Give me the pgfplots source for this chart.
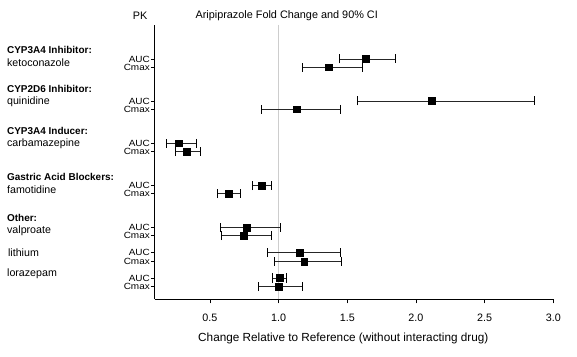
\documentclass[border=0pt]{standalone}
\usepackage{pgfplots}
\pgfplotsset{compat=1.18}
\usepackage{pgfplotstable}
\usepackage{fontspec}
\setmainfont{Liberation Sans}

\pgfplotstableread{
y x lo hi
-59.0 1.634 1.440 1.850
-67.2 1.367 1.170 1.607
-101.0 2.117 1.571 2.864
-109.3 1.129 0.878 1.447
-143.3 0.272 0.184 0.398
-151.7 0.330 0.252 0.434
-185.7 0.874 0.810 0.944
-193.7 0.636 0.556 0.721
-227.7 0.765 0.575 1.015
-235.7 0.745 0.582 0.947
-252.7 1.153 0.920 1.447
-261.3 1.187 0.969 1.454
-278.0 1.007 0.954 1.058
-286.7 1.000 0.852 1.170
}\data

\begin{document}
\begin{tikzpicture}
\path[use as bounding box] (-155bp,-57.7bp) rectangle (422bp,299.3bp);
\begin{axis}[
  at={(0,0)}, anchor=south west,
  scale only axis, width=398.3bp, height=274.3bp,
  xmin=0.1, xmax=3.0, ymin=-299.3, ymax=-25,
  axis lines=left, axis line style={-, line width=1pt, black},
  tick align=outside, major tick length=4bp,
  tick style={black, line width=0.8pt},
  xtick={0.5,1,1.5,2,2.5,3},
  xticklabels={0.5,1.0,1.5,2.0,2.5,3.0},
  xticklabel style={font=\fontsize{10.8}{12}\selectfont, yshift=-7bp},
  ytick={-59,-67.2,-101,-109.3,-143.3,-151.7,-185.7,-193.7,-227.7,-235.7,-252.7,-261.3,-278,-286.7},
  yticklabels={AUC,Cmax,AUC,Cmax,AUC,Cmax,AUC,Cmax,AUC,Cmax,AUC,Cmax,AUC,Cmax},
  yticklabel style={font=\fontsize{10}{10}\selectfont, inner sep=1bp, yscale=0.9},
  clip=false,
]
\addplot[color={rgb,255:red,205;green,205;blue,205}, line width=1.5bp] coordinates {(1,-25) (1,-299.3)};
\addplot[only marks, mark=square*, mark size=3.4bp, black,
  error bars/.cd, x dir=both, x explicit, error mark=|,
  error bar style={line width=0.8pt, black!85},
  error mark options={line width=0.8pt, mark size=4.5bp, black}]
  table[x=x, y=y, x error plus expr=\thisrow{hi}-\thisrow{x}, x error minus expr=\thisrow{x}-\thisrow{lo}] {\data};

\node[font=\fontsize{10.9}{12}\selectfont] at (axis cs:1.059,-16) {Aripiprazole Fold Change and 90\% CI};
\node[font=\fontsize{10.9}{12}\selectfont] at (axis cs:-0.009,-15.7) {PK};
\node[font=\fontsize{11.8}{12}\selectfont] at (axis cs:1.471,-338.3) {Change Relative to Reference (without interacting drug)};

\begin{scope}[every node/.style={anchor=west, inner sep=0pt}]
\node[font=\fontsize{10}{12}\selectfont\bfseries] at (axis cs:-0.978,-50) {CYP3A4 Inhibitor:};
\node[font=\fontsize{10.7}{12}\selectfont] at (axis cs:-0.978,-62.7) {ketoconazole};
\node[font=\fontsize{10}{12}\selectfont\bfseries] at (axis cs:-0.978,-89.3) {CYP2D6 Inhibitor:};
\node[font=\fontsize{10.7}{12}\selectfont] at (axis cs:-0.978,-101.7) {quinidine};
\node[font=\fontsize{10}{12}\selectfont\bfseries] at (axis cs:-0.978,-130.7) {CYP3A4 Inducer:};
\node[font=\fontsize{10.7}{12}\selectfont] at (axis cs:-0.978,-144) {carbamazepine};
\node[font=\fontsize{10}{12}\selectfont\bfseries] at (axis cs:-0.978,-176.7) {Gastric Acid Blockers:};
\node[font=\fontsize{10.7}{12}\selectfont] at (axis cs:-0.978,-190) {famotidine};
\node[font=\fontsize{10}{12}\selectfont\bfseries] at (axis cs:-0.978,-218.3) {Other:};
\node[font=\fontsize{10.7}{12}\selectfont] at (axis cs:-0.978,-231) {valproate};
\node[font=\fontsize{10.7}{12}\selectfont] at (axis cs:-0.971,-252.7) {lithium};
\node[font=\fontsize{10.7}{12}\selectfont] at (axis cs:-0.978,-274) {lorazepam};
\end{scope}
\end{axis}
\end{tikzpicture}
\end{document}
